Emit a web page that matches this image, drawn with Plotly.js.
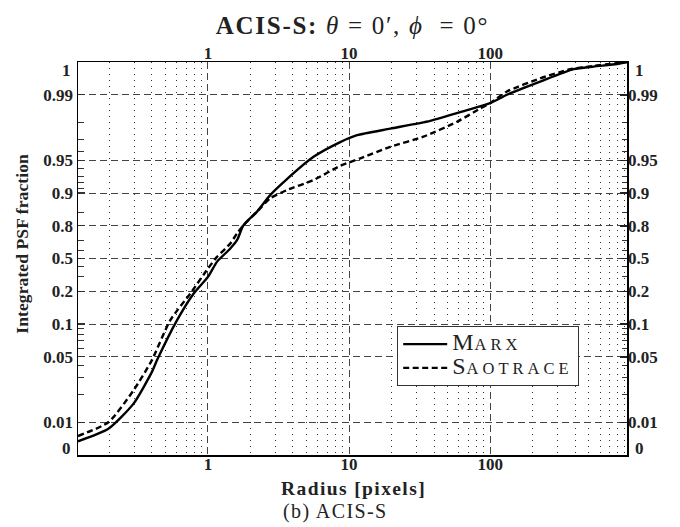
<!DOCTYPE html>
<html>
<head>
<meta charset="utf-8">
<script src="https://cdn.plot.ly/plotly-3.0.1.min.js"></script>
<style>html,body{margin:0;padding:0;background:#fff;}#chart{width:680px;height:527px;}</style>
</head>
<body>
<div id="chart"></div>
<script>
// ---- data ----
const radiusMarx = [0.12,0.197,0.297,0.40,0.435,0.603,0.79,1.0,1.158,1.44,1.606,1.787,2.22,2.76,3.63,5.6,8.66,11.4,19.6,37.6,68.5,100,131.5,226,390,540,792,932];
const fracMarx   = [0.0042,0.008,0.0158,0.0343,0.0458,0.108,0.19,0.299,0.455,0.622,0.70,0.8025,0.851,0.8955,0.9255,0.954,0.968,0.973,0.977,0.981,0.9854,0.9877,0.990,0.994,0.9978,0.9986,0.9994,1.0];
const radiusSao  = [0.12,0.197,0.297,0.40,0.54,0.762,1.0,1.158,1.44,1.606,1.787,2.22,2.76,3.63,5.6,8.66,11.9,19.6,33.7,58.3,85,100,131.5,226,370,540,932];
const fracSao    = [0.0058,0.01,0.0219,0.0458,0.108,0.196,0.378,0.522,0.671,0.752,0.8025,0.851,0.888,0.906,0.924,0.9437,0.952,0.964,0.972,0.9806,0.986,0.9877,0.991,0.995,0.9978,0.9988,1.0];

const seriesNames = ['Marx','Saotrace'];
const xTickVals = [1,10,100];
const xTickText = ['1','10','100'];
const xMinorVals = [0.2,0.3,0.4,0.5,0.6,0.7,0.8,0.9,2,3,4,5,6,7,8,9,20,30,40,50,60,70,80,90,200,300,400,500,600,700,800,900];
const yTickVals = [0,0.01,0.05,0.1,0.2,0.5,0.8,0.9,0.95,0.99,1];
const yTickText = ['0','0.01','0.05','0.1','0.2','0.5','0.8','0.9','0.95','0.99','1'];
const yMinorVals = [0.02,0.03,0.04,0.06,0.07,0.08,0.09,0.3,0.4,0.6,0.7,0.85,0.91,0.92,0.93,0.94,0.96,0.97,0.98];

// ---- y scale: ordinal-like probability scale ----
const scaleP = [0,0.01,0.05,0.1,0.2,0.5,0.8,0.9,0.95,0.99,1];
const scaleU = [-6,-5,-3,-2,-1,0,1,2,3,5,6];
function T(p){
  let i = 0;
  while (i < scaleP.length-2 && p > scaleP[i+1]) i++;
  const a = scaleP[i], b = scaleP[i+1];
  let f;
  if (i === 0 || i === scaleP.length-2) f = (p-a)/(b-a);
  else if (b <= 0.5) f = (Math.log(p)-Math.log(a))/(Math.log(b)-Math.log(a));
  else f = (Math.log(1-p)-Math.log(1-a))/(Math.log(1-b)-Math.log(1-a));
  return scaleU[i] + f*(scaleU[i+1]-scaleU[i]);
}
const yRange = [T(0), T(1)];
const xRange = [Math.log10(0.12), Math.log10(932)];

// ---- layout geometry ----
const W = 680, H = 527;
const M = {l:78, r:53, t:62, b:72};
const PW = W - M.l - M.r, PH = H - M.t - M.b;
const pxX = x => (x - M.l) / PW;
const pxY = y => (H - M.b - y) / PH;

const FONT = 'Liberation Serif, Times New Roman, serif';
const gridCol = '#444';
const sp = (txt, ls) => '<span style="letter-spacing:' + ls + 'px">' + txt + '</span>';
function smallCaps(name){
  return '<span style="font-size:24px;letter-spacing:1px">' + name[0].toUpperCase() + '</span>' +
         '<span style="font-size:16.5px;letter-spacing:4px">' + name.slice(1).toUpperCase() + '</span>';
}

// tick labels at the range edges are drawn as annotations (nudged inwards)
const edgeIdx = yTickVals.map((v,i)=>i).filter(i => yTickVals[i] === 0 || yTickVals[i] === 1);
const innerIdx = yTickVals.map((v,i)=>i).filter(i => !edgeIdx.includes(i));

const traces = [
  {x: radiusMarx, y: fracMarx.map(T), name: smallCaps(seriesNames[0]), mode:'lines',
   line:{color:'#000', width:2.4, shape:'spline', smoothing:0.6}},
  {x: radiusSao, y: fracSao.map(T), name: smallCaps(seriesNames[1]), mode:'lines',
   line:{color:'#000', width:2.4, dash:'6px,3.5px', shape:'spline', smoothing:0.6}},
  {x:[1], y:[0], xaxis:'x2', yaxis:'y2', mode:'markers', marker:{opacity:0},
   showlegend:false, hoverinfo:'skip'}
];

const tickFont = {family: FONT, size: 17, color:'#222', weight:'bold'};

const annotations = [];
edgeIdx.forEach(i => {
  const u = T(yTickVals[i]);
  const shift = u > 0 ? -8 : 7;
  annotations.push({xref:'paper', yref:'y', x:0, y:u, xanchor:'right', yanchor:'middle',
    xshift:-5, yshift:shift, text:'<b>'+yTickText[i]+'</b>', showarrow:false, font:tickFont});
  annotations.push({xref:'paper', yref:'y', x:1, y:u, xanchor:'left', yanchor:'middle',
    xshift:6, yshift:shift, text:'<b>'+yTickText[i]+'</b>', showarrow:false, font:tickFont});
});
annotations.push({xref:'paper', yref:'paper', x:pxX(21.7), y:pxY(244), textangle:-90,
  xanchor:'center', yanchor:'middle', showarrow:false,
  text:'<b>' + sp('Integrated PSF fraction', 0.1) + '</b>', font:{family:FONT, size:17.5, color:'#222'}});
annotations.push({xref:'paper', yref:'paper', x:pxX(353), y:pxY(488.5),
  xanchor:'center', yanchor:'middle', showarrow:false,
  text:'<b>' + sp('Radius [pixels]', 1.4) + '</b>', font:{family:FONT, size:19.5, color:'#222'}});
annotations.push({xref:'paper', yref:'paper', x:pxX(335), y:pxY(511.5),
  xanchor:'center', yanchor:'middle', showarrow:false,
  text: sp('(b) ACIS-S', 1.4), font:{family:FONT, size:20, color:'#222'}});

const layout = {
  width: W, height: H,
  margin: M,
  paper_bgcolor:'#fff', plot_bgcolor:'#fff',
  showlegend: true,
  title: {text: sp('<b>ACIS-S:</b> <i>θ</i> = 0′, <i>ϕ</i>  = 0°', 1.7), font:{family:FONT, size:25, color:'#222'},
          xref:'paper', x:0.5, xanchor:'center', yref:'container', y:1-25/H, yanchor:'middle'},
  xaxis: {type:'log', range:xRange, tickmode:'array', tickvals:xTickVals, ticktext:xTickText,
    ticks:'', showline:true, linecolor:'#000', linewidth:1.5, mirror:true,
    showgrid:true, gridcolor:gridCol, gridwidth:1, griddash:'7px,4px',
    tickfont:tickFont, zeroline:false, ticklabelstandoff:-7,
    minor:{tickmode:'array', tickvals:xMinorVals, ticks:'', showgrid:true, gridcolor:'#333', gridwidth:1, griddash:'1.2px,4.8px'}},
  xaxis2: {type:'log', range:xRange, overlaying:'x', side:'top', anchor:'y', tickmode:'array',
    tickvals:xTickVals, ticktext:xTickText, ticks:'', showgrid:false, showline:false,
    tickfont:tickFont, zeroline:false, ticklabelstandoff:-1},
  yaxis: {range:yRange, tickmode:'array', tickvals:innerIdx.map(i=>T(yTickVals[i])),
    ticktext:innerIdx.map(i=>yTickText[i]), ticks:'inside', ticklen:7, tickwidth:1.2, tickcolor:'#333',
    showline:true, linecolor:'#000', linewidth:1.5, mirror:true,
    showgrid:true, gridcolor:gridCol, gridwidth:1, griddash:'7px,4px', zeroline:false,
    tickfont:tickFont,
    minor:{tickmode:'array', tickvals:yMinorVals.map(T), ticks:'inside', ticklen:6, tickwidth:1, tickcolor:'#333', showgrid:false}},
  yaxis2: {range:yRange, overlaying:'y', side:'right', anchor:'x', tickmode:'array',
    tickvals:innerIdx.map(i=>T(yTickVals[i])), ticktext:innerIdx.map(i=>yTickText[i]),
    ticks:'inside', ticklen:7, tickwidth:1.5, tickcolor:'#222', showgrid:false, showline:false, zeroline:false,
    tickfont:tickFont,
    minor:{tickmode:'array', tickvals:yMinorVals.map(T), ticks:'inside', ticklen:5, tickwidth:1, tickcolor:'#333', showgrid:false}},
  legend: {x:pxX(397), y:pxY(326), xanchor:'left', yanchor:'top',
    bgcolor:'#fff', bordercolor:'#333', borderwidth:1.2,
    font:{family:FONT, size:16, color:'#222'},
    itemwidth:44, tracegroupgap:0},
  annotations: annotations
};

Plotly.newPlot('chart', traces, layout, {staticPlot:true});
</script>
</body>
</html>
